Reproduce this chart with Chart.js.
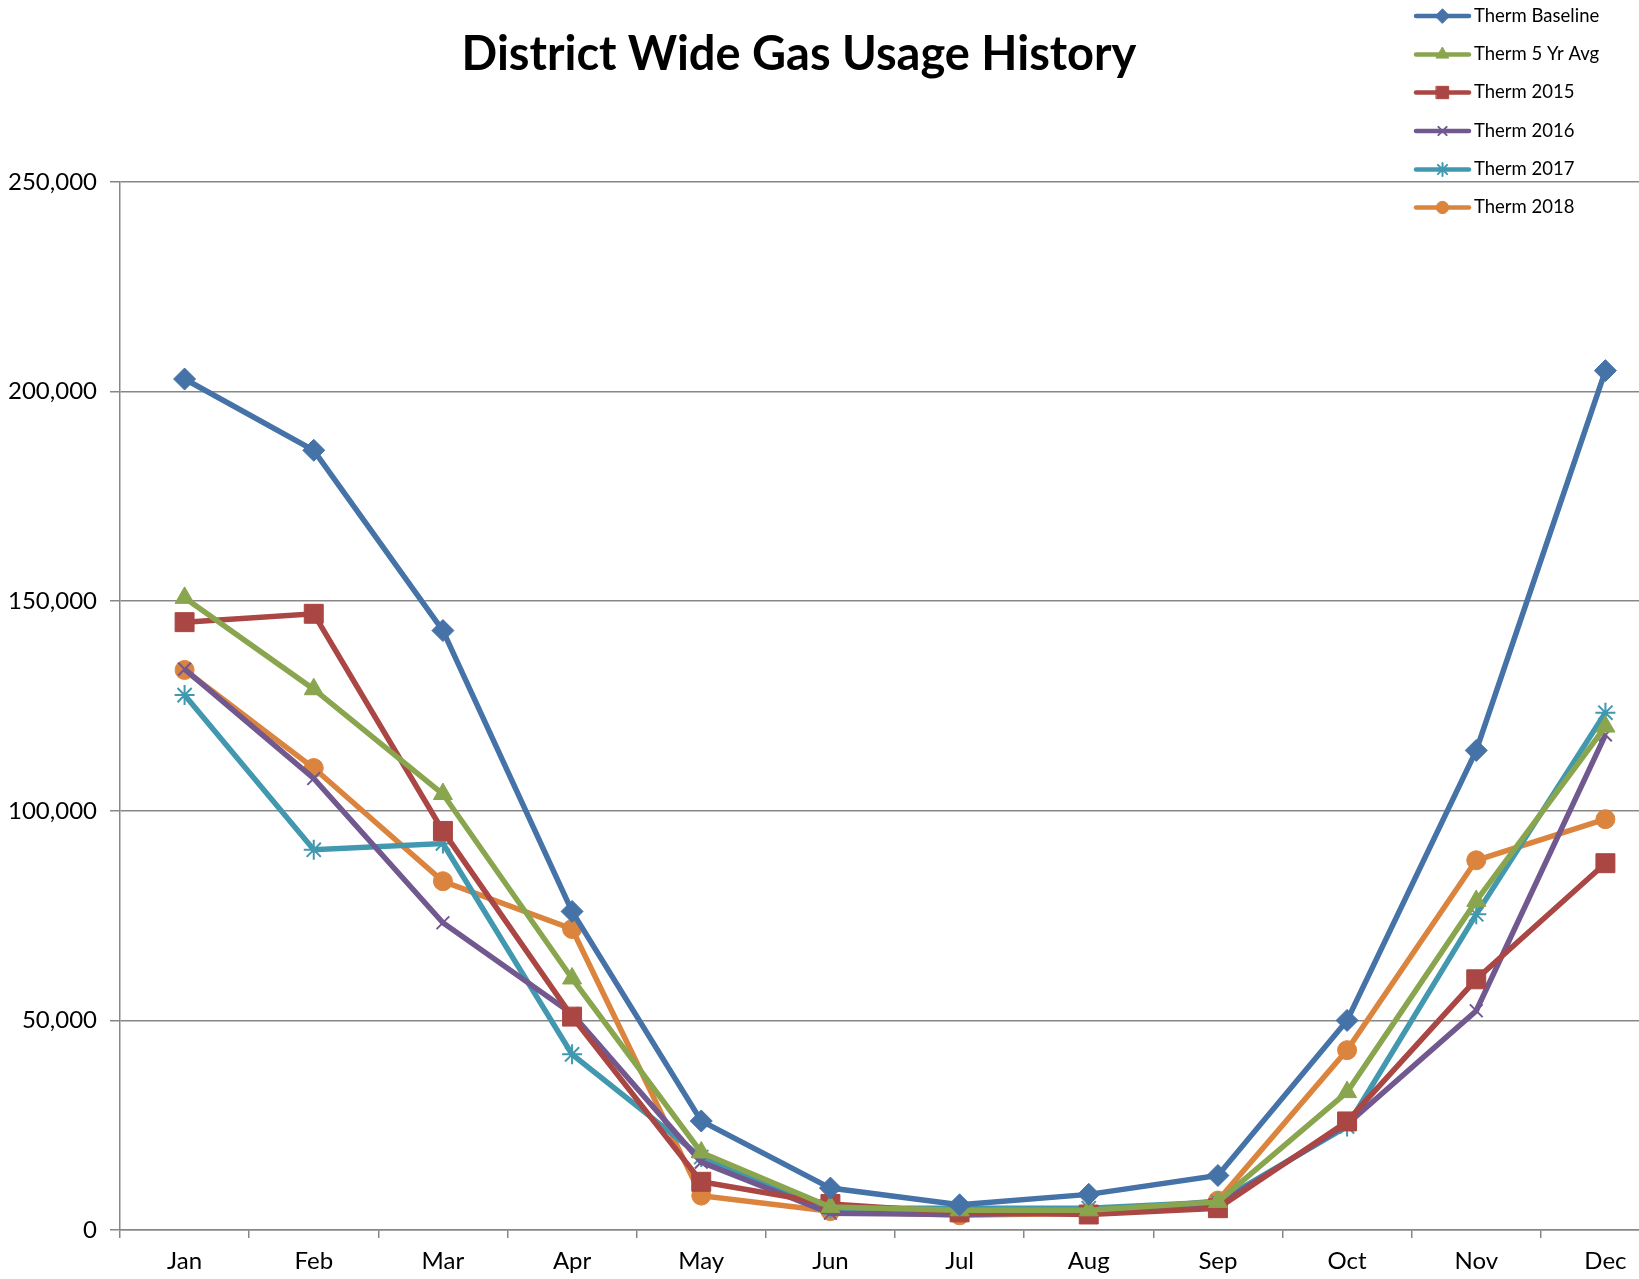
<!DOCTYPE html>
<html>
<head>
<meta charset="utf-8">
<script src="https://cdn.jsdelivr.net/npm/chart.js@4.4.1/dist/chart.umd.min.js"></script>
<style>
  html, body { margin: 0; padding: 0; background: #fff; overflow: hidden; }
  #wrap { position: relative; width: 1700px; height: 1279px; }
  #title { position: absolute; left: 0; width: 1598px; top: 20px; text-align: center;
           font-family: Lato, "Open Sans", sans-serif; font-weight: bold; font-size: 47px; color: #000; line-height: 64px; }
</style>
</head>
<body>
<div id="wrap">
  <canvas id="c" width="1700" height="1279"></canvas>
  <div id="title">District Wide Gas Usage History</div>
</div>
<script>
const months = ['Jan','Feb','Mar','Apr','May','Jun','Jul','Aug','Sep','Oct','Nov','Dec'];
const seriesNames = ['Therm Baseline','Therm 5 Yr Avg','Therm 2015','Therm 2016','Therm 2017','Therm 2018'];
const thermBaseline = [203000,186000,143000,76000,26000,10000,6000,8500,13000,50000,114400,205000];
const therm5YrAvg  = [150800,129000,104000,60000,18500,5500,4700,4700,6700,32900,78500,120100];
const therm2015    = [145000,147000,95200,50900,11500,6200,4200,3700,5200,25900,59800,87500];
const therm2016    = [133800,107700,73300,51600,16200,4000,3700,4200,6000,25200,52300,118100];
const therm2017    = [127600,90700,92200,41900,17400,5200,5200,5200,6700,24700,75300,123400];
const therm2018    = [133600,110200,83200,71800,8200,4500,3500,4000,7000,42900,88200,98000];
const yTicks = [0,50000,100000,150000,200000,250000];

const colors = ['#4572A7','#89A54E','#AA4643','#71588F','#4198AF','#DB843D'];
const styles = ['rectRot','triangle','rect','crossRot','star','circle'];
const radii  = [11,11,13.4,9,10,9.5];
const values = [thermBaseline, therm5YrAvg, therm2015, therm2016, therm2017, therm2018];

const datasets = values.map((v, i) => ({
  label: seriesNames[i],
  data: v,
  borderColor: colors[i],
  backgroundColor: colors[i],
  borderWidth: 5.5,
  pointStyle: styles[i],
  pointRadius: radii[i],
  pointBorderWidth: (styles[i] === 'crossRot' || styles[i] === 'star') ? 2 : 1,
  pointBorderColor: colors[i],
  pointBackgroundColor: colors[i],
  tension: 0
}));

const FONT = 'Lato, "Open Sans", sans-serif';

const excelLegend = {
  id: 'excelLegend',
  afterDatasetsDraw(chart) {
    const ctx = chart.ctx;
    const x0 = 1416, x1 = 1469, tx = 1474;
    const ys = [16, 54.5, 92.5, 131, 169.5, 207.5];
    ctx.save();
    chart.data.datasets.forEach((ds, i) => {
      const y = ys[i];
      ctx.strokeStyle = ds.borderColor;
      ctx.lineWidth = 4.5;
      ctx.lineCap = 'round';
      ctx.beginPath(); ctx.moveTo(x0, y); ctx.lineTo(x1, y); ctx.stroke();
      ctx.fillStyle = ds.backgroundColor;
      ctx.lineWidth = ds.pointBorderWidth;
      Chart.helpers.drawPoint(ctx, { pointStyle: ds.pointStyle, radius: ds.pointRadius * 0.65, rotation: 0, borderWidth: ds.pointBorderWidth }, (x0 + x1) / 2, y);
      ctx.fillStyle = '#000';
      ctx.font = '18.5px ' + FONT;
      ctx.textBaseline = 'middle';
      ctx.textAlign = 'left';
      ctx.fillText(ds.label, tx, y);
    });
    ctx.restore();
  }
};

new Chart(document.getElementById('c'), {
  type: 'line',
  data: { labels: months, datasets },
  plugins: [excelLegend],
  options: {
    responsive: false,
    animation: false,
    layout: { padding: { top: 182, right: 30, left: 0, bottom: 0 } },
    plugins: { legend: { display: false }, tooltip: { enabled: false }, title: { display: false } },
    scales: {
      x: {
        type: 'category',
        offset: true,
        grid: { display: true, drawOnChartArea: false, drawTicks: true, tickLength: 8, color: '#878787', lineWidth: 1.5, offset: true },
        border: { display: true, color: '#878787', width: 1.5 },
        ticks: { font: { family: FONT, size: 24 }, color: '#000', padding: 9, maxRotation: 0 },
        afterFit(s) { s.height = 49; }
      },
      y: {
        min: 0, max: 250000,
        afterBuildTicks(s) { s.ticks = yTicks.map(v => ({ value: v })); },
        grid: { color: '#878787', lineWidth: 1.5, drawTicks: true, tickLength: 10 },
        border: { display: true, color: '#878787', width: 1.5 },
        ticks: { font: { family: FONT, size: 24 }, color: '#000', padding: 13,
                 callback: v => Number(v).toLocaleString('en-US') },
        afterFit(s) { s.width = 120; }
      }
    }
  }
});
</script>
</body>
</html>
